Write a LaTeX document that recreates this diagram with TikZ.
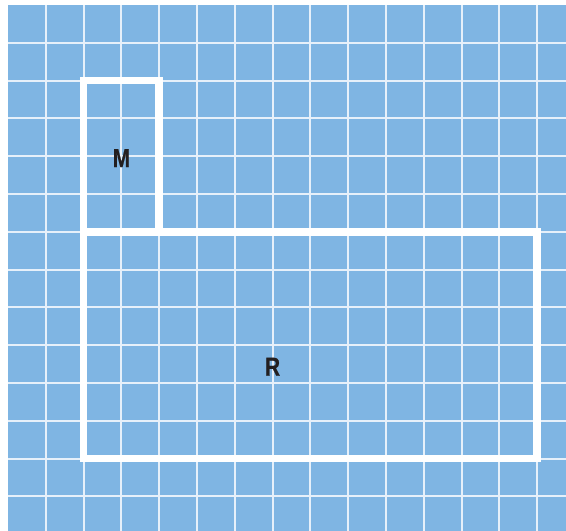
\documentclass[tikz,border=0pt]{standalone}
\usepackage{fontspec}
\usepackage{xcolor}
\usepackage{tikz}
\newfontfamily\labelfont{Liberation Sans}[FakeStretch=0.8, FakeBold=0.6]
\definecolor{cellblue}{HTML}{7FB5E3}
\definecolor{thinline}{HTML}{E6F0FA}
\definecolor{inkgray}{HTML}{231F20}

\begin{document}
\begin{tikzpicture}[
  x=0.5cm, y=0.5cm,
  gridline/.style = {draw=thinline, line width=0.7pt},
  outline/.style  = {draw=white, line width=2.8pt},
  letter/.style   = {font=\labelfont\bfseries\fontsize{9.8}{10}\selectfont,
                     text=inkgray, inner sep=0pt}
]

\useasboundingbox (-0.212,-13.915) rectangle (14.762,0.132);
\fill[cellblue] (0,-13.915) rectangle (14.762,0);

% thin grid
\foreach \k in {1,...,14}
  \draw[gridline] (\k,-13.915) -- (\k,0);
\foreach \k in {1,...,13}
  \draw[gridline] (0,-\k) -- (14.762,-\k);

% the two rectangles
\draw[outline] (2,-6) -- (2,-2) -- (4,-2) -- (4,-6);
\draw[outline] (2,-6) rectangle (14,-12);

\node[letter] (labM) at (3,-4.05)  {M};
\node[letter] (labR) at (7,-9.57)  {R};

\end{tikzpicture}
\end{document}
